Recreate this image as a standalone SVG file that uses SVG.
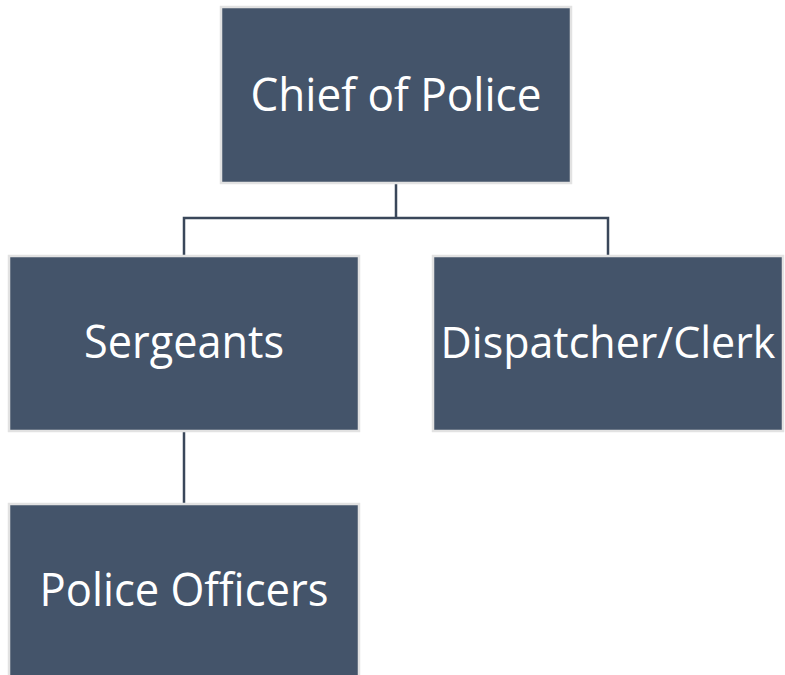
<svg xmlns="http://www.w3.org/2000/svg" width="785" height="675" viewBox="0 0 785 675">
<style>
.box{fill:#44546A;stroke:#E2E2E2;stroke-width:2.5}
.lbl{font-family:"Open Sans","Liberation Sans",sans-serif;font-size:45px;fill:#FFFFFF;text-anchor:middle}
.conn{fill:none;stroke:#3A475A;stroke-width:2.5}
</style>
<rect width="785" height="675" fill="#FFFFFF"/>
<g id="connectors">
<path class="conn" d="M396 184 V218 M184 256 V218 H608 V256"/>
<path class="conn" d="M184 432 V504"/>
</g>
<g id="chief">
<rect class="box" x="221" y="7" width="350" height="176"/>
<text class="lbl" x="396" y="111" textLength="291" lengthAdjust="spacingAndGlyphs">Chief of Police</text>
</g>
<g id="sergeants">
<rect class="box" x="9" y="256" width="350" height="175"/>
<text class="lbl" x="184" y="358" textLength="200" lengthAdjust="spacingAndGlyphs">Sergeants</text>
</g>
<g id="dispatcher">
<rect class="box" x="433" y="256" width="350" height="175"/>
<text class="lbl" x="608" y="358" style="font-size:43px">Dispatcher/Clerk</text>
</g>
<g id="officers">
<rect class="box" x="9" y="504" width="350" height="176"/>
<text class="lbl" x="184" y="606" textLength="289" lengthAdjust="spacingAndGlyphs">Police Officers</text>
</g>
</svg>
